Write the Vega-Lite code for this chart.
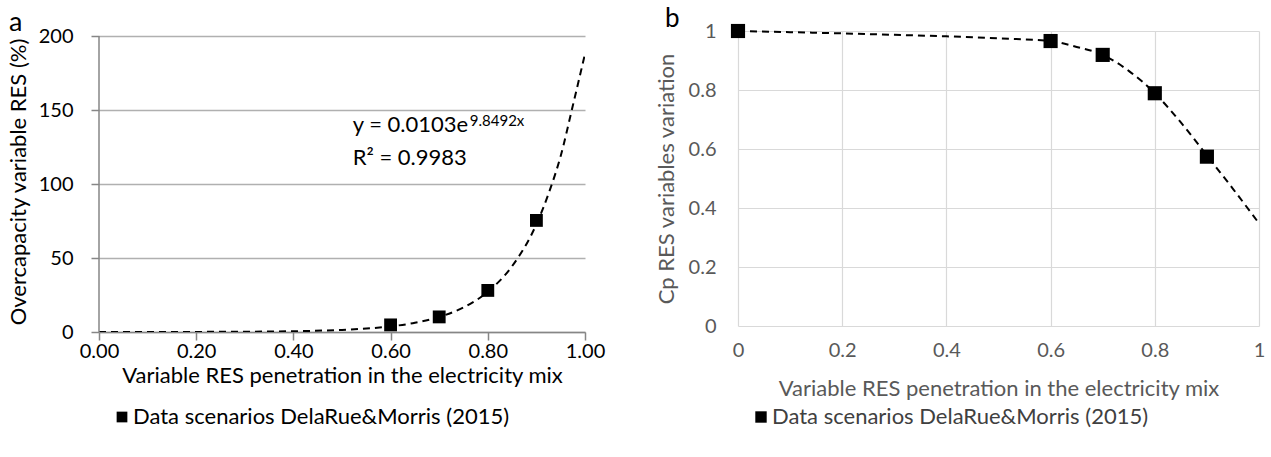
{
  "$schema": "https://vega.github.io/schema/vega-lite/v6.json",
  "background": "white",
  "padding": {"left": 7, "top": 6, "right": 5, "bottom": 5},
  "config": {"font": "Lato", "view": {"stroke": null}},
  "spacing": 50,
  "datasets": {
    "a_points": [
      {"x": 0.6, "y": 4.8, "series": "Data scenarios DelaRue&Morris (2015)"},
      {"x": 0.7, "y": 10.2, "series": "Data scenarios DelaRue&Morris (2015)"},
      {"x": 0.8, "y": 28.1, "series": "Data scenarios DelaRue&Morris (2015)"},
      {"x": 0.9, "y": 75.4, "series": "Data scenarios DelaRue&Morris (2015)"}
    ],
    "a_trend": [
      {"x": 0, "y": 0.0103}, {"x": 0.1, "y": 0.0276}, {"x": 0.2, "y": 0.0738},
      {"x": 0.3, "y": 0.198}, {"x": 0.4, "y": 0.529}, {"x": 0.5, "y": 1.42},
      {"x": 0.55, "y": 2.32}, {"x": 0.6, "y": 3.8}, {"x": 0.65, "y": 6.2},
      {"x": 0.7, "y": 10.2}, {"x": 0.75, "y": 16.6}, {"x": 0.8, "y": 27.2},
      {"x": 0.85, "y": 44.5}, {"x": 0.9, "y": 72.8}, {"x": 0.925, "y": 93.5},
      {"x": 0.95, "y": 119}, {"x": 0.975, "y": 153}, {"x": 1, "y": 188}
    ],
    "b_points": [
      {"x": 0, "y": 1, "series": "Data scenarios DelaRue&Morris (2015)"},
      {"x": 0.6, "y": 0.966, "series": "Data scenarios DelaRue&Morris (2015)"},
      {"x": 0.7, "y": 0.919, "series": "Data scenarios DelaRue&Morris (2015)"},
      {"x": 0.8, "y": 0.789, "series": "Data scenarios DelaRue&Morris (2015)"},
      {"x": 0.9, "y": 0.574, "series": "Data scenarios DelaRue&Morris (2015)"}
    ],
    "b_line": [
      {"x": 0, "y": 1}, {"x": 0.1, "y": 0.996}, {"x": 0.2, "y": 0.992},
      {"x": 0.3, "y": 0.987}, {"x": 0.4, "y": 0.982}, {"x": 0.5, "y": 0.975},
      {"x": 0.6, "y": 0.966}, {"x": 0.65, "y": 0.946}, {"x": 0.7, "y": 0.919},
      {"x": 0.75, "y": 0.865}, {"x": 0.8, "y": 0.789}, {"x": 0.85, "y": 0.69},
      {"x": 0.9, "y": 0.578}, {"x": 0.95, "y": 0.465}, {"x": 1, "y": 0.348}
    ],
    "one": [{}]
  },
  "resolve": {
    "scale": {"shape": "independent", "color": "independent"},
    "legend": {"shape": "independent", "color": "independent"}
  },
  "hconcat": [
    {
      "width": 486,
      "height": 301,
      "title": {"text": "a", "anchor": "start", "frame": "group", "dx": -90, "fontSize": 27, "fontWeight": "normal", "color": "black", "offset": -11},
      "layer": [
        {
          "data": {"name": "a_trend"},
          "mark": {"type": "line", "color": "black", "strokeWidth": 2, "strokeDash": [7, 5], "interpolate": "monotone", "clip": true},
          "encoding": {
            "x": {
              "field": "x", "type": "quantitative",
              "scale": {"domain": [0, 1], "nice": false, "zero": false},
              "axis": {
                "values": [0, 0.2, 0.4, 0.6, 0.8, 1], "format": ".2f", "grid": false, "labelFlush": false,
                "domainColor": "#868686", "domainWidth": 1.5, "tickColor": "#868686", "tickWidth": 1.5, "tickSize": 8,
                "labelFontSize": 20, "labelColor": "black", "labelPadding": 1,
                "title": "Variable RES penetration in the electricity mix",
                "titleFontSize": 22, "titleFontWeight": "normal", "titleColor": "black", "titlePadding": 4
              }
            },
            "y": {
              "field": "y", "type": "quantitative",
              "scale": {"domain": [0, 203.4], "nice": false, "zero": false},
              "axis": {
                "values": [0, 50, 100, 150, 200], "grid": true, "gridColor": "#b0b0b0", "gridWidth": 1.5,
                "domain": false, "tickColor": "#868686", "tickWidth": 1.5, "tickSize": 8,
                "labelFontSize": 20, "labelColor": "black", "labelPadding": 18,
                "title": "Overcapacity variable RES (%)",
                "titleFontSize": 22, "titleFontWeight": "normal", "titleColor": "black", "titlePadding": 8
              }
            }
          }
        },
        {
          "data": {"name": "one"},
          "mark": {"type": "rule", "color": "#868686", "strokeWidth": 1.5},
          "encoding": {
            "x": {"datum": 0, "type": "quantitative"},
            "y": {"datum": 0, "type": "quantitative"},
            "y2": {"datum": 200}
          }
        },
        {
          "data": {"name": "a_points"},
          "mark": {"type": "point", "shape": "square", "filled": true, "color": "black", "opacity": 1, "size": 165},
          "encoding": {
            "x": {"field": "x", "type": "quantitative"},
            "y": {"field": "y", "type": "quantitative"},
            "shape": {
              "field": "series", "type": "nominal", "scale": {"range": ["square"]},
              "legend": {
                "orient": "none", "legendX": 12, "legendY": 375, "title": null, "padding": 0,
                "labelFontSize": 22, "labelColor": "black", "labelOffset": 0, "labelLimit": 0,
                "symbolType": "square", "symbolSize": 115, "symbolFillColor": "black", "symbolStrokeColor": "black"
              }
            }
          }
        },
        {
          "data": {"name": "one"},
          "mark": {"type": "text", "text": "y = 0.0103e", "fontSize": 22, "align": "left", "baseline": "alphabetic", "color": "black"},
          "encoding": {"x": {"datum": 0.522, "type": "quantitative"}, "y": {"datum": 135, "type": "quantitative"}}
        },
        {
          "data": {"name": "one"},
          "mark": {"type": "text", "text": "9.8492x", "fontSize": 15, "align": "left", "baseline": "alphabetic", "color": "black"},
          "encoding": {"x": {"datum": 0.763, "type": "quantitative"}, "y": {"datum": 139, "type": "quantitative"}}
        },
        {
          "data": {"name": "one"},
          "mark": {"type": "text", "text": "R² = 0.9983", "fontSize": 22, "align": "left", "baseline": "alphabetic", "color": "black"},
          "encoding": {"x": {"datum": 0.522, "type": "quantitative"}, "y": {"datum": 113, "type": "quantitative"}}
        }
      ]
    },
    {
      "width": 521,
      "height": 295,
      "title": {"text": "b", "anchor": "start", "frame": "group", "dx": -73, "fontSize": 26, "fontWeight": "normal", "color": "black", "offset": -11},
      "layer": [
        {
          "data": {"name": "b_line"},
          "mark": {"type": "line", "color": "black", "strokeWidth": 2, "strokeDash": [7, 5], "interpolate": "monotone"},
          "encoding": {
            "x": {
              "field": "x", "type": "quantitative",
              "scale": {"domain": [0, 1], "nice": false, "zero": false},
              "axis": {
                "values": [0, 0.2, 0.4, 0.6, 0.8, 1], "format": "~g", "grid": true, "gridColor": "#d9d9d9", "gridWidth": 1.2,
                "domain": false, "ticks": false, "labelFlush": false,
                "labelFontSize": 20, "labelColor": "#595959", "labelPadding": 14,
                "title": "Variable RES penetration in the electricity mix",
                "titleFontSize": 22, "titleFontWeight": "normal", "titleColor": "#595959", "titlePadding": 18
              }
            },
            "y": {
              "field": "y", "type": "quantitative",
              "scale": {"domain": [0, 1], "nice": false, "zero": false},
              "axis": {
                "values": [0, 0.2, 0.4, 0.6, 0.8, 1], "format": "~g", "grid": true, "gridColor": "#d9d9d9", "gridWidth": 1.2,
                "domain": false, "ticks": false,
                "labelFontSize": 20, "labelColor": "#595959", "labelPadding": 22,
                "title": "Cp RES variables variation",
                "titleFontSize": 22, "titleFontWeight": "normal", "titleColor": "#595959", "titlePadding": 10
              }
            }
          }
        },
        {
          "data": {"name": "b_points"},
          "mark": {"type": "point", "shape": "square", "filled": true, "color": "black", "opacity": 1, "size": 200},
          "encoding": {
            "x": {"field": "x", "type": "quantitative"},
            "y": {"field": "y", "type": "quantitative"},
            "shape": {
              "field": "series", "type": "nominal", "scale": {"range": ["square"]},
              "legend": {
                "orient": "none", "legendX": 12, "legendY": 375, "title": null, "padding": 0,
                "labelFontSize": 22, "labelColor": "#404040", "labelOffset": 0, "labelLimit": 0,
                "symbolType": "square", "symbolSize": 130, "symbolFillColor": "black", "symbolStrokeColor": "black"
              }
            }
          }
        }
      ]
    }
  ]
}
